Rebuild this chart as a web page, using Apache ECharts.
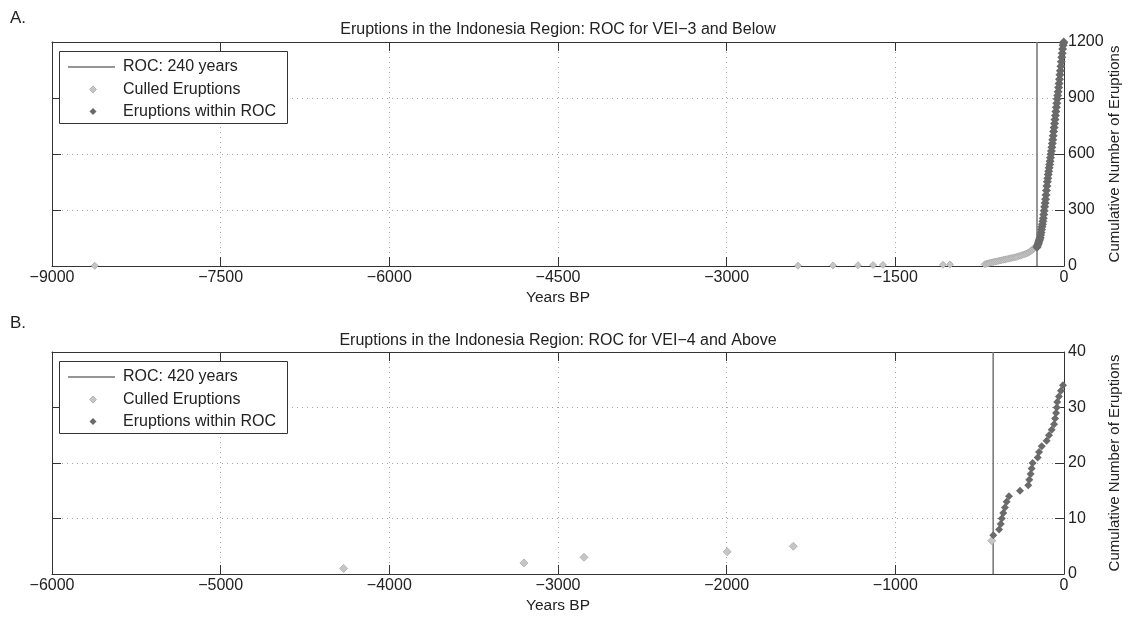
<!DOCTYPE html>
<html>
<head>
<meta charset="utf-8">
<title>Eruptions in the Indonesia Region</title>
<script src="https://cdn.jsdelivr.net/npm/echarts@6/dist/echarts.min.js"></script>
<style>
  html, body { margin: 0; padding: 0; background: #fff; }
  #chart { width: 1128px; height: 619px; }
</style>
</head>
<body>
<div id="chart"></div>
<script>
// Panel A: VEI-3 and below, ROC = 240 years
const rocA = 240;
const titleA = 'Eruptions in the Indonesia Region: ROC for VEI\u22123 and Below';
const xTicksA = { min: -9000, max: 0, interval: 1500 };
const yTicksA = { min: 0, max: 1200, interval: 300 };
// [years BP, cumulative count]
const culledA = [
  [-8620, 1], [-2366, 2], [-2054, 3], [-1832, 4], [-1698, 5], [-1610, 6], [-1076, 7], [-1014, 8],
  [-705, 9], [-690, 12], [-675, 14], [-660, 17], [-645, 19], [-630, 21], [-615, 23], [-600, 25],
  [-585, 27], [-570, 29], [-555, 31], [-540, 33], [-525, 35], [-510, 37], [-495, 39], [-480, 41],
  [-465, 43], [-450, 45], [-435, 47], [-420, 49], [-405, 52], [-390, 55], [-375, 58], [-360, 61],
  [-345, 64], [-332, 67], [-320, 71], [-310, 74], [-300, 78], [-292, 82], [-284, 86], [-276, 90],
  [-268, 94], [-260, 98], [-252, 101], [-245, 104]
];
const withinA = [
  [-240, 100], [-236, 108], [-232, 116], [-228, 122], [-224, 130], [-220, 138], [-216, 145],
  [-212, 152], [-208, 166], [-204, 180], [-200, 195], [-196, 210], [-192, 224], [-188, 240],
  [-184, 256], [-180, 276], [-176, 296], [-172, 318], [-168, 338], [-164, 358], [-160, 380],
  [-156, 404], [-152, 428], [-148, 452], [-144, 470], [-140, 490], [-136, 508], [-132, 526],
  [-128, 544], [-124, 561], [-120, 580], [-116, 598], [-112, 616], [-108, 636], [-104, 656],
  [-100, 676], [-96, 698], [-92, 720], [-88, 742], [-84, 764], [-80, 785], [-76, 806],
  [-72, 828], [-68, 850], [-64, 872], [-60, 894], [-56, 914], [-52, 934], [-48, 956],
  [-44, 978], [-40, 1000], [-36, 1024], [-32, 1046], [-28, 1070], [-24, 1094], [-20, 1118],
  [-16, 1140], [-12, 1162], [-8, 1182], [-4, 1194], [-2, 1200]
];

// Panel B: VEI-4 and above, ROC = 420 years
const rocB = 420;
const titleB = 'Eruptions in the Indonesia Region: ROC for VEI\u22124 and Above';
const xTicksB = { min: -6000, max: 0, interval: 1000 };
const yTicksB = { min: 0, max: 40, interval: 10 };
const culledB = [[-4271, 1], [-3202, 2], [-2846, 3], [-1997, 4], [-1605, 5], [-428, 6]];
const withinB = [
  [-419, 7], [-385, 8], [-375, 9], [-369, 10], [-360, 11], [-350, 12], [-340, 13], [-326, 14],
  [-261, 15], [-212, 16], [-206, 17], [-198, 18], [-192, 19], [-186, 20], [-156, 21], [-148, 22],
  [-132, 23], [-103, 24], [-89, 25], [-73, 26], [-59, 27], [-53, 28], [-47, 29], [-43, 30],
  [-40, 31], [-30, 32], [-18, 33], [-6, 34]
];

const legendLabels = ['Culled Eruptions', 'Eruptions within ROC'];

const FONT = '"Liberation Sans", Arial, Helvetica, sans-serif';
const TEXT = '#222';
const AXIS_COLOR = '#333';
const ROC_COLOR = '#737373';
const CULLED_COLOR = '#c6c6c6';
const CULLED_EDGE = '#a9a9a9';
const WITHIN_COLOR = '#6a6a6a';
const minus = v => String(v).replace('-', '\u2212');

const grids = [
  { left: 52, right: 64, top: 42, height: 224, containLabel: false, outerBoundsMode: 'none' },
  { left: 52, right: 64, top: 352, height: 222, containLabel: false, outerBoundsMode: 'none' }
];

const dotted = { type: [1, 4], color: '#a6a6a6', width: 1 };

function xAxes(gridIndex, ticks) {
  const common = {
    type: 'value', gridIndex, min: ticks.min, max: ticks.max, interval: ticks.interval,
    axisLine: { show: true, onZero: false, lineStyle: { color: AXIS_COLOR, width: 1 } },
    axisTick: { show: true, inside: true, length: 9, lineStyle: { color: AXIS_COLOR } }
  };
  return [
    Object.assign({}, common, {
      position: 'bottom',
      name: 'Years BP', nameLocation: 'middle', nameGap: 24, nameMoveOverlap: false,
      nameTextStyle: { fontFamily: FONT, fontSize: 15.5, color: TEXT },
      axisLabel: { fontFamily: FONT, fontSize: 16, color: TEXT, margin: 4, formatter: minus },
      splitLine: { show: true, showMinLine: false, showMaxLine: false, lineStyle: dotted }
    }),
    Object.assign({}, common, {
      position: 'top', axisLabel: { show: false }, splitLine: { show: false }
    })
  ];
}

function yAxes(gridIndex, ticks) {
  const common = {
    type: 'value', gridIndex, min: ticks.min, max: ticks.max, interval: ticks.interval,
    axisLine: { show: true, onZero: false, lineStyle: { color: AXIS_COLOR, width: 1 } },
    axisTick: { show: true, inside: true, length: 9, lineStyle: { color: AXIS_COLOR } }
  };
  return [
    Object.assign({}, common, {
      position: 'right',
      name: 'Cumulative Number of Eruptions', nameLocation: 'middle', nameRotate: 90,
      nameGap: 43, nameMoveOverlap: false,
      nameTextStyle: { fontFamily: FONT, fontSize: 15, color: TEXT },
      axisLabel: { fontFamily: FONT, fontSize: 16, color: TEXT, margin: 4, formatter: v => String(v) },
      splitLine: { show: true, showMinLine: false, showMaxLine: false, lineStyle: dotted }
    }),
    Object.assign({}, common, {
      position: 'left', axisLabel: { show: false }, splitLine: { show: false }
    })
  ];
}

function panelSeries(axisBase, roc, yMax, culled, within, culledSize, withinSize) {
  return [
    {
      name: 'ROC: ' + roc + ' years', type: 'line',
      xAxisIndex: axisBase, yAxisIndex: axisBase,
      data: [[-roc, 0], [-roc, yMax]], symbol: 'none', silent: true,
      lineStyle: { color: ROC_COLOR, width: 1.5 }, itemStyle: { color: ROC_COLOR }, z: 3
    },
    {
      name: 'Culled Eruptions', type: 'scatter',
      xAxisIndex: axisBase, yAxisIndex: axisBase,
      data: culled, symbol: 'diamond', symbolSize: culledSize,
      itemStyle: { color: CULLED_COLOR, borderColor: CULLED_EDGE, borderWidth: 0.8, opacity: 1 }, z: 4
    },
    {
      name: 'Eruptions within ROC', type: 'scatter',
      xAxisIndex: axisBase, yAxisIndex: axisBase,
      data: within, symbol: 'diamond', symbolSize: withinSize,
      itemStyle: { color: WITHIN_COLOR, opacity: 1 }, z: 5
    }
  ];
}

// Boxed legend in the upper-left corner of a panel
function legendBox(top, roc) {
  const font = '16px ' + FONT;
  const labels = ['ROC: ' + roc + ' years'].concat(legendLabels);
  const rows = [16, 38.5, 60.5];
  const els = [
    { type: 'rect', shape: { x: 59.5, y: top + 0.5, width: 228, height: 72 },
      style: { fill: '#fff', stroke: AXIS_COLOR, lineWidth: 1 }, z: 50 },
    { type: 'line', shape: { x1: 68, y1: top + rows[0], x2: 115, y2: top + rows[0] },
      style: { stroke: ROC_COLOR, lineWidth: 1.5 }, z: 51 },
    { type: 'polygon', shape: { points: [[93, top + rows[1] - 3.5], [96.5, top + rows[1]], [93, top + rows[1] + 3.5], [89.5, top + rows[1]]] },
      style: { fill: CULLED_COLOR, stroke: CULLED_EDGE, lineWidth: 0.8 }, z: 51 },
    { type: 'polygon', shape: { points: [[93, top + rows[2] - 3.5], [96.5, top + rows[2]], [93, top + rows[2] + 3.5], [89.5, top + rows[2]]] },
      style: { fill: WITHIN_COLOR }, z: 51 }
  ];
  labels.forEach((t, i) => {
    els.push({ type: 'text', x: 123, y: top + rows[i],
      style: { text: t, font, fill: TEXT, textVerticalAlign: 'middle' }, z: 51 });
  });
  return els;
}

const chart = echarts.init(document.getElementById('chart'), null, { renderer: 'canvas' });
chart.setOption({
  animation: false,
  backgroundColor: '#fff',
  grid: grids,
  xAxis: [...xAxes(0, xTicksA), ...xAxes(1, xTicksB)],
  yAxis: [...yAxes(0, yTicksA), ...yAxes(1, yTicksB)],
  series: [
    ...panelSeries(0, rocA, yTicksA.max, culledA, withinA, 7, 9),
    ...panelSeries(2, rocB, yTicksB.max, culledB, withinB, 8, 8)
  ],
  graphic: [
    { type: 'text', x: 10, y: 18, style: { text: 'A.', font: '17px ' + FONT, fill: TEXT, textVerticalAlign: 'middle' } },
    { type: 'text', x: 10, y: 323, style: { text: 'B.', font: '17px ' + FONT, fill: TEXT, textVerticalAlign: 'middle' } },
    { type: 'text', x: 558, y: 30, style: { text: titleA, font: '16px ' + FONT, fill: TEXT, textAlign: 'center', textVerticalAlign: 'middle' } },
    { type: 'text', x: 558, y: 341, style: { text: titleB, font: '16px ' + FONT, fill: TEXT, textAlign: 'center', textVerticalAlign: 'middle' } },
    ...legendBox(51, rocA),
    ...legendBox(361, rocB)
  ]
});
</script>
</body>
</html>
